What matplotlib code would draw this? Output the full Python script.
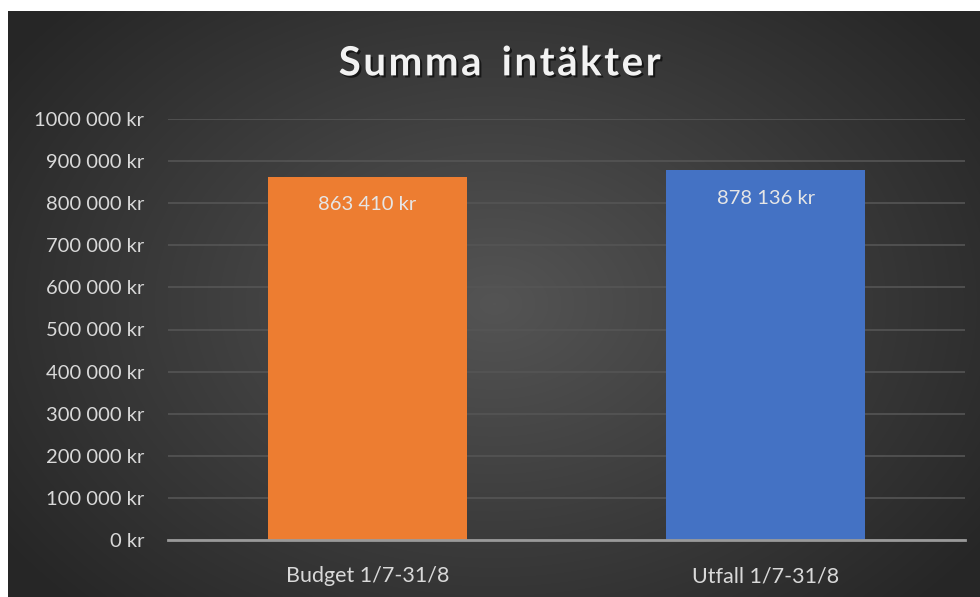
import numpy as np
import matplotlib.pyplot as plt
import matplotlib.patheffects as pe
from matplotlib.ticker import FuncFormatter

plt.rcParams['font.family'] = ['Lato', 'DejaVu Sans']

# Data
categories = ['Budget 1/7-31/8', 'Utfall 1/7-31/8']
values = [863410, 878136]
bar_colors = ['#ED7D31', '#4472C4']
yticks = list(range(0, 1000001, 100000))

def kr(v):
    s = f'{int(v):,}'.replace(',', ' ')
    if v >= 1000000:
        s = s.replace(' ', '', 1)  # Excel shows "1000 000 kr"
    return s + ' kr'

fig = plt.figure(figsize=(9.8, 5.97), dpi=100)
fig.patch.set_facecolor('white')

# Dark panel with radial gradient
bg = fig.add_axes([8 / 980, 0, 972 / 980, 586 / 597])
bg.set_axis_off()
yy, xx = np.mgrid[0:1:300j, 0:1:500j]
r = np.sqrt(((xx - 0.5) / 0.75) ** 2 + ((yy - 0.5) / 0.9) ** 2)
shade = np.clip(0.33 - 0.22 * r, 0.15, 0.34)
img = np.dstack([shade, shade, shade])
bg.imshow(img, aspect='auto', extent=[0, 1, 0, 1], interpolation='bilinear')
bg.set_xlim(0, 1)
bg.set_ylim(0, 1)

# Main chart
ax = fig.add_axes([168 / 980, 57 / 597, 797 / 980, 421 / 597])
ax.patch.set_alpha(0)
x = np.arange(len(categories))
bars = ax.bar(x, values, width=0.5, color=bar_colors, zorder=3)
ax.set_xlim(-0.5, len(categories) - 0.5)
ax.set_ylim(0, 1000000)
ax.set_yticks(yticks)
ax.yaxis.set_major_formatter(FuncFormatter(lambda v, p: kr(v)))
ax.set_xticks(x)
ax.set_xticklabels(categories)
ax.tick_params(axis='both', length=0, colors='#D9D9D9')
ax.tick_params(axis='y', pad=17, labelsize=14.5)
ax.tick_params(axis='x', pad=19, labelsize=15.5)
ax.grid(axis='y', color='#555555', linewidth=1.2, zorder=0)
for s in ['top', 'right', 'left']:
    ax.spines[s].set_visible(False)
ax.spines['bottom'].set_color('#9A9A9A')
ax.spines['bottom'].set_linewidth(2)
ax.spines['bottom'].set_zorder(4)

for b, v in zip(bars, values):
    ax.annotate(kr(v), (b.get_x() + b.get_width() / 2, v),
                xytext=(0, -14), textcoords='offset points',
                ha='center', va='top', color='#E6E6E6', fontsize=14.5, zorder=5)

fig.text(0.51, 0.893, 'S u m m a   i n t ä k t e r'.replace('   ', '\u2002').replace(' ', '\u200a'),
         ha='center', va='center', color='#F2F2F2', fontsize=29, fontweight='bold',
         path_effects=[pe.withSimplePatchShadow(offset=(1.5, -1.5), shadow_rgbFace='black', alpha=0.6)])

fig.savefig('out.png', dpi=100, facecolor=fig.get_facecolor())
